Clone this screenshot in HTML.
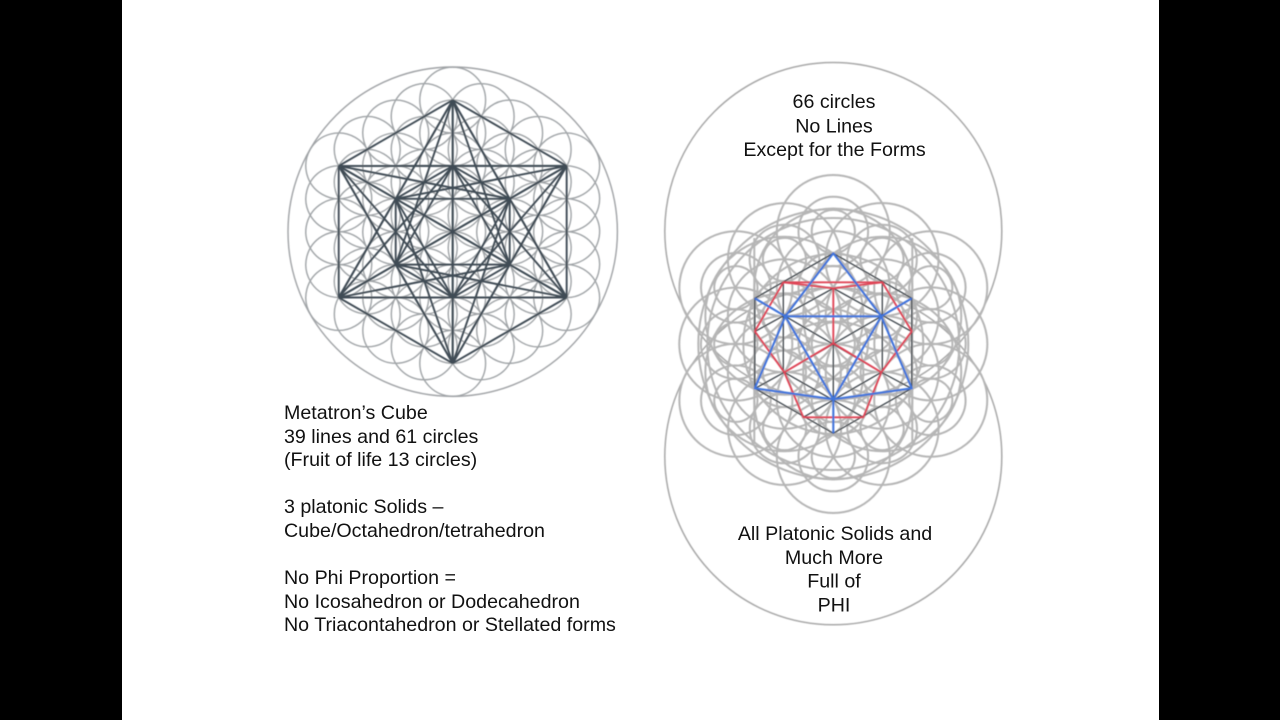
<!DOCTYPE html>
<html><head><meta charset="utf-8"><title>Metatron's Cube</title>
<style>
html,body{margin:0;padding:0;background:#000;width:1280px;height:720px;overflow:hidden}
svg{position:absolute;left:0;top:0;display:block}
text{font-family:"Liberation Sans",Arial,sans-serif;font-size:19.65px;fill:#111}
</style></head><body>
<svg width="1280" height="720" viewBox="0 0 1280 720" xmlns="http://www.w3.org/2000/svg">
<defs>
<filter id="b" x="-5%" y="-5%" width="110%" height="110%"><feGaussianBlur stdDeviation="0.4"/></filter>
<g id="ls">
<circle cx="0" cy="-32.9" r="32.9"/><circle cx="0" cy="-65.8" r="32.9"/><circle cx="0" cy="-98.7" r="32.9"/><circle cx="0" cy="-131.6" r="32.9"/>
<circle cx="28.49" cy="-49.35" r="32.9"/><circle cx="28.49" cy="-82.25" r="32.9"/><circle cx="28.49" cy="-115.15" r="32.9"/>
<circle cx="56.98" cy="-65.8" r="32.9"/><circle cx="56.98" cy="-98.7" r="32.9"/><circle cx="85.47" cy="-82.25" r="32.9"/>
</g>
<g id="ll">
<line x1="0" y1="-131.6" x2="114" y2="-65.8"/>
<line x1="0" y1="-131.6" x2="114" y2="65.8"/>
<line x1="0" y1="-131.6" x2="0" y2="131.6"/>
<line x1="0" y1="-131.6" x2="57" y2="-32.9"/>
<line x1="0" y1="-131.6" x2="57" y2="32.9"/>
<line x1="0" y1="-131.6" x2="-57" y2="-32.9"/>
<line x1="0" y1="-131.6" x2="-57" y2="32.9"/>
<line x1="0" y1="-65.8" x2="57" y2="-32.9"/>
<line x1="0" y1="-65.8" x2="57" y2="32.9"/>
</g>
<g id="rs">
<circle cx="0" cy="-56.5" r="56.5"/><circle cx="0" cy="-112.5" r="56.5"/><circle cx="48.7" cy="-84.5" r="56.5"/>
<circle cx="0" cy="-56.5" r="34.8"/><circle cx="0" cy="-112.5" r="34.8"/><circle cx="48.7" cy="-84.5" r="34.8"/>
<circle cx="0" cy="-56.5" r="21.6"/><circle cx="0" cy="-112.5" r="21.6"/><circle cx="48.7" cy="-84.5" r="21.6"/>
<circle cx="0" cy="-56.5" r="79"/>
</g>
</defs>
<rect x="0" y="0" width="1280" height="720" fill="#000"/>
<rect x="122" y="0" width="1037" height="720" fill="#fff"/>

<g filter="url(#b)">
<!-- Left figure -->
<g transform="translate(452.7,231.7)">
<circle r="164.7" fill="none" stroke="#a0a3a6" stroke-width="1.4"/>
<g fill="none" stroke="#a0a4a7" stroke-width="1.4">
<circle r="32.9"/>
<use href="#ls"/><use href="#ls" transform="rotate(60)"/><use href="#ls" transform="rotate(120)"/><use href="#ls" transform="rotate(180)"/><use href="#ls" transform="rotate(240)"/><use href="#ls" transform="rotate(300)"/>
</g>
<g stroke="#3f4c55" stroke-width="1.9" fill="none">
<use href="#ll"/><use href="#ll" transform="rotate(60)"/><use href="#ll" transform="rotate(120)"/><use href="#ll" transform="rotate(180)"/><use href="#ll" transform="rotate(240)"/><use href="#ll" transform="rotate(300)"/>
</g>
</g>

<!-- Right figure -->
<g transform="translate(833.3,344)">
<g fill="none" stroke="#a8a8a8" stroke-width="1.5">
<circle cy="-113" r="168.5"/>
<circle cy="112.3" r="168.5"/>
</g>
<g fill="none" stroke="#b6b6b6" stroke-width="2">
<circle r="56.5"/><circle r="34.8"/><circle r="21.6"/><circle r="135"/><circle r="126"/><circle r="90"/>
<use href="#rs"/><use href="#rs" transform="rotate(60)"/><use href="#rs" transform="rotate(120)"/><use href="#rs" transform="rotate(180)"/><use href="#rs" transform="rotate(240)"/><use href="#rs" transform="rotate(300)"/>
<line x1="-79" y1="-106" x2="-79" y2="100"/>
<line x1="79" y1="-106" x2="79" y2="100"/>
</g>
</g>
<g transform="translate(833.3,343.3)">
<g fill="none" stroke="#3a4248" stroke-width="1.3">
<polygon points="0,-90 78.5,-45 78.5,45 0,90 -78.5,45 -78.5,-45"/>
<line x1="-50" y1="-61" x2="-50" y2="29"/>
<line x1="49" y1="-61" x2="49" y2="29"/>
<polyline points="-78,-12 0,-55 78,-12"/>
<line x1="-48" y1="-27" x2="48" y2="29"/>
<line x1="48" y1="-27" x2="-49" y2="29"/>
<line x1="0" y1="0" x2="0" y2="90"/>
<line x1="-49" y1="29" x2="30" y2="74"/>
<line x1="48" y1="29" x2="-30" y2="74"/>
<line x1="-78" y1="45" x2="-49" y2="29"/>
<line x1="78" y1="45" x2="48" y2="29"/>
</g>
<g fill="none" stroke="#df4456" stroke-width="1.9" stroke-linejoin="round">
<polyline points="-50,-61 0,-55 49,-61"/>
<line x1="0" y1="-55" x2="0" y2="0"/>
<polygon points="49,-61 78.5,-12 48,29 30,74 -30,74 -49,29 -78.5,-12 -50,-61"/>
<polyline points="-49,29 0,0 48,29"/>
</g>
<g fill="none" stroke="#4075dc" stroke-width="2.1" stroke-linejoin="round">
<polygon points="0,-90 48,-27 78.5,45 0,56 -78.5,45 -48,-27"/>
<polygon points="-48,-27 48,-27 0,56"/>
<line x1="-48" y1="-27" x2="-78.5" y2="-45"/>
<line x1="48" y1="-27" x2="78.5" y2="-45"/>
<line x1="0" y1="56" x2="0" y2="90"/>
</g>
</g>
</g>

<text x="284" y="419">Metatron’s Cube</text>
<text x="284" y="443">39 lines and 61 circles</text>
<text x="284" y="466">(Fruit of life 13 circles)</text>
<text x="284" y="513">3 platonic Solids –</text>
<text x="284" y="537">Cube/Octahedron/tetrahedron</text>
<text x="284" y="584">No Phi Proportion =</text>
<text x="284" y="608">No Icosahedron or Dodecahedron</text>
<text x="284" y="631">No Triacontahedron or Stellated forms</text>

<g text-anchor="middle">
<text x="834" y="108">66 circles</text>
<text x="834" y="132.5">No Lines</text>
<text x="834.5" y="156">Except for the Forms</text>
<text x="835" y="540">All Platonic Solids and</text>
<text x="834" y="564">Much More</text>
<text x="834" y="587.5">Full of</text>
<text x="834" y="611.5">PHI</text>
</g>
</svg>
</body></html>
